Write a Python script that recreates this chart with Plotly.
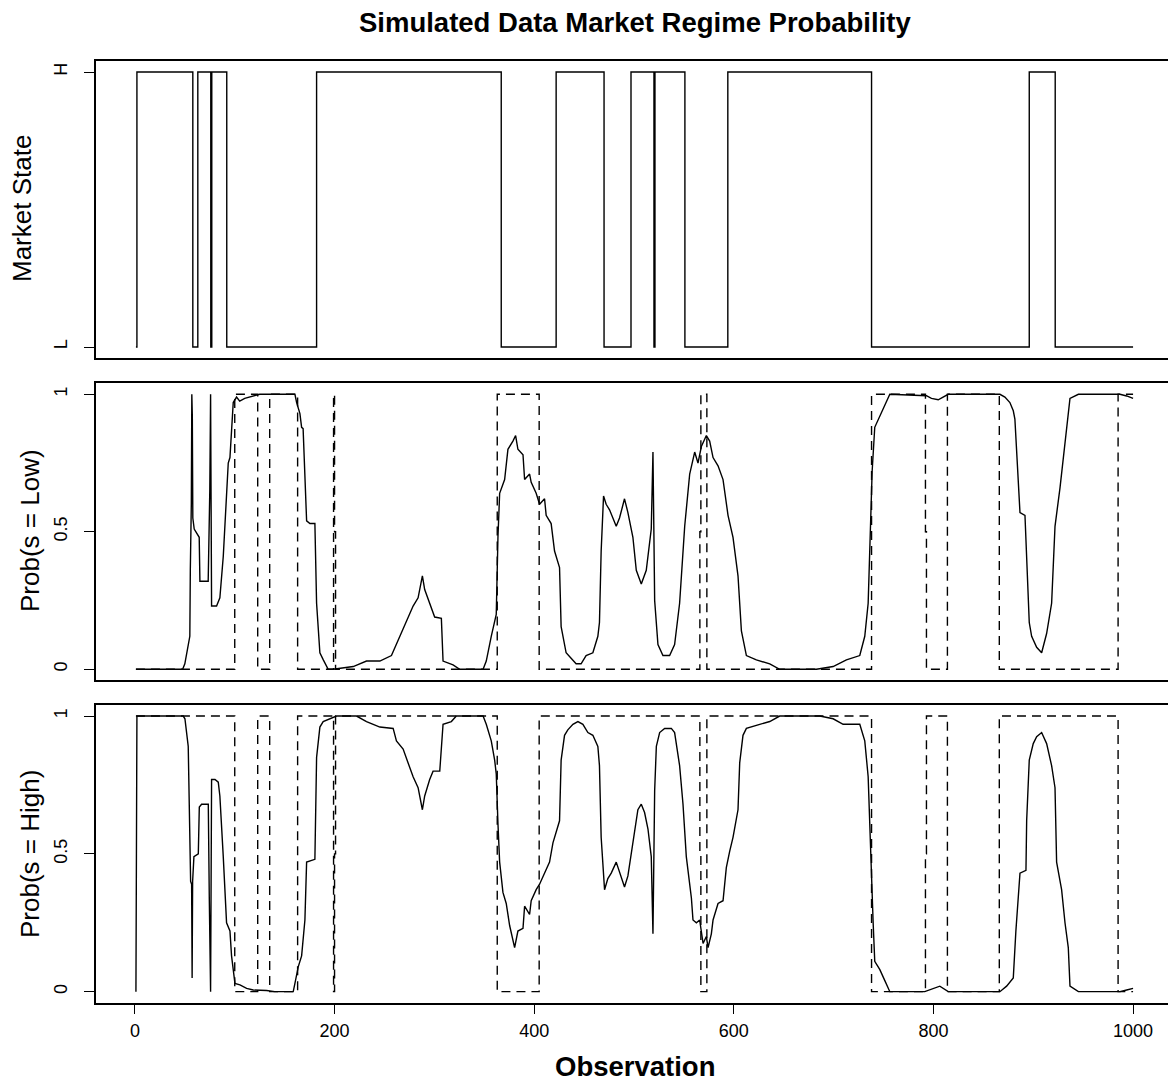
import plotly.graph_objects as go

# ---------------- data ----------------
# Market state (0 = L, 1 = H), step series: value holds from each obs until the next
state_obs = [1, 2, 58, 63, 76, 77, 92, 182, 367, 422, 470, 497, 520, 521, 551, 594, 738, 896, 922, 1000]
state_val = [0, 1, 0, 1, 0, 1, 0, 1, 0, 1, 0, 1, 0, 1, 0, 1, 0, 1, 0, 0]
state_ticks = [0, 1]
state_ticktext = ["L", "H"]

# Prob(s = Low)
low_obs = [1, 47.8, 50, 55, 55.5, 56.5, 57, 57.5, 58, 59.4, 64.4, 65.1, 73.4, 75, 75.8, 76.5, 76.8, 81.8,
           85.1, 88.5, 91.8, 93.5, 95.2, 96.8, 98.5, 101.8, 105, 110, 115, 120, 125, 160.3, 162, 165.3, 167,
           168.5, 170.3, 172, 175.3, 180.3, 182, 183.7, 185.3, 188.6, 193.6, 198.6, 218.7, 232, 245.4, 257,
           262, 272, 278.7, 283.7, 288, 290.3, 295.3, 300.3, 307, 308.7, 318.7, 325.4, 348.8, 352, 357, 362,
           363.7, 365.4, 370.4, 373.7, 378.7, 381.4, 383.7, 388.8, 390.4, 395.4, 397, 402, 405.4, 410.4, 412,
           417, 420.4, 425.4, 427, 432, 437, 442, 447, 452, 458.8, 463.8, 465.4, 467.1, 469.5, 472.1, 475.5,
           482.2, 485.5, 490.5, 493.9, 498.9, 502.3, 507.3, 512.3, 517.3, 519, 520.7, 524, 529, 535.7, 540.7,
           545.7, 550.8, 555.8, 560.8, 564.1, 567.5, 572.5, 575.8, 579.2, 584.2, 589.2, 594.2, 599.2, 604.2,
           607.6, 612.6, 622.6, 636, 646, 682.8, 699.5, 712.8, 726.2, 731.2, 734.6, 736.9, 738.6, 741.2, 746.3,
           751.3, 756.3, 793, 798, 804.8, 810, 814.8, 866.6, 871.6, 876.6, 880, 881.6, 883.3, 886.7, 891.7,
           893.4, 896, 898.4, 903.4, 908.4, 913.4, 918.4, 921.8, 926.8, 930.1, 933.5, 936.8, 945.2, 986.9,
           993.6, 1000]
low_prob = [0, 0, 0.02, 0.12, 0.36, 0.6, 1.0, 0.92, 0.55, 0.51, 0.48, 0.32, 0.32, 0.65, 1.0, 0.3, 0.23, 0.23,
            0.26, 0.41, 0.66, 0.75, 0.77, 0.88, 0.97, 0.99, 0.975, 0.985, 0.99, 0.995, 1.0, 1.0, 0.97, 0.93, 0.88,
            0.875, 0.66, 0.54, 0.53, 0.53, 0.24, 0.12, 0.06, 0.035, 0.0, 0.0, 0.01, 0.03, 0.03, 0.05,
            0.09, 0.17, 0.23, 0.26, 0.34, 0.29, 0.24, 0.19, 0.185, 0.03, 0.016, 0.0, 0.0, 0.03, 0.12, 0.2,
            0.48, 0.64, 0.69, 0.8, 0.83, 0.85, 0.8, 0.78, 0.69, 0.71, 0.68, 0.64, 0.6, 0.62, 0.56,
            0.53, 0.43, 0.37, 0.155, 0.06, 0.04, 0.02, 0.02, 0.05, 0.06, 0.12, 0.17, 0.43, 0.63, 0.6, 0.58,
            0.52, 0.55, 0.62, 0.57, 0.48, 0.36, 0.31, 0.36, 0.51, 0.79, 0.25, 0.09, 0.05, 0.05, 0.09,
            0.24, 0.52, 0.71, 0.79, 0.75, 0.81, 0.85, 0.83, 0.77, 0.74, 0.69, 0.56, 0.48, 0.34,
            0.14, 0.05, 0.034, 0.02, 0.0, 0.0, 0.01, 0.034, 0.05, 0.12, 0.24, 0.48, 0.72, 0.88, 0.92,
            0.955, 1.0, 0.995, 0.985, 0.98, 0.99, 1.0, 1.0, 0.99, 0.97, 0.94, 0.91, 0.79, 0.57, 0.56,
            0.38, 0.17, 0.12, 0.08, 0.06, 0.13, 0.24, 0.52, 0.66, 0.76, 0.87, 0.985, 1.0, 1.0,
            0.994, 0.985]

# Prob(s = High)
high_obs = [1, 2, 48.4, 50.1, 53.4, 55.8, 56.8, 57.3, 57.8, 59.1, 63.5, 64.5, 66.8, 73.5, 74.5, 75.8, 76.8,
            80.2, 83.5, 85.1, 88.5, 91.8, 95.2, 96.8, 98.5, 100.2, 105.2, 111.9, 118.5, 131.9, 140, 158.6,
            160.3, 163.6, 167, 170.3, 172, 180.3, 182, 185.3, 188.6, 195.3, 202, 222, 232, 245.4, 258.7, 262,
            268.7, 273.7, 278.7, 283.7, 288, 290.3, 295.3, 298.7, 305.4, 308.7, 317, 322, 348.8, 352, 357,
            360.4, 362, 363.7, 365.4, 368.7, 372, 375.4, 380.4, 383.7, 388.8, 390.4, 395.4, 397, 402, 405.4,
            410.4, 415.4, 418.8, 425.4, 427, 430.4, 433.7, 438.8, 443.8, 448.8, 453.8, 458.8, 463.8, 465.4,
            467.1, 470.5, 473.8, 477.2, 482.2, 487.2, 490.5, 493.9, 497.2, 500.6, 503.9, 507.3, 510.6, 514,
            517.3, 519, 520.7, 522.4, 525.7, 530.7, 537.4, 540.7, 545.7, 549.1, 552.4, 557.5, 559.1, 562.5,
            565.8, 569.2, 572.5, 574.2, 577.5, 579.2, 584.2, 589.2, 592.5, 595.9, 599.2, 604.2, 605.9, 609.2,
            612.6, 626, 636, 646, 686.2, 699.5, 709.5, 726.2, 731.2, 734.6, 736.2, 737.9, 739.6, 741.2, 746.3,
            751.3, 756.3, 791.3, 799.7, 806.4, 814.8, 866.6, 873.3, 880, 882.6, 886.7, 892.7, 893.4, 896, 900,
            903.4, 908.4, 913.4, 918.4, 921.8, 923.4, 928.4, 931.8, 935.1, 936.8, 945.2, 986.9, 993.6, 1000]
high_prob = [0, 1, 1, 0.99, 0.89, 0.4, 0.39, 0.05, 0.4, 0.49, 0.5, 0.67, 0.68, 0.68, 0.34, 0.0, 0.77,
             0.77, 0.76, 0.71, 0.49, 0.25, 0.22, 0.13, 0.08, 0.03, 0.025, 0.012, 0.006, 0.004, 0, 0,
             0.03, 0.09, 0.13, 0.26, 0.47, 0.48, 0.85, 0.96, 0.98, 0.99, 1.0, 1.0, 0.98, 0.96, 0.955, 0.91,
             0.88, 0.83, 0.78, 0.74, 0.66, 0.71, 0.77, 0.8, 0.8, 0.97, 0.98, 1.0, 1.0, 0.97, 0.91,
             0.84, 0.79, 0.61, 0.47, 0.36, 0.32, 0.24, 0.16, 0.22, 0.23, 0.31, 0.28, 0.33, 0.37, 0.39,
             0.43, 0.47, 0.54, 0.62, 0.84, 0.93, 0.95, 0.97, 0.98, 0.97, 0.94, 0.93, 0.89, 0.82,
             0.56, 0.37, 0.41, 0.43, 0.47, 0.42, 0.38, 0.42, 0.5, 0.59, 0.66, 0.68, 0.65, 0.59,
             0.49, 0.21, 0.73, 0.89, 0.94, 0.955, 0.955, 0.94, 0.82, 0.68, 0.49, 0.34, 0.26, 0.25,
             0.26, 0.175, 0.2, 0.16, 0.21, 0.26, 0.32, 0.33, 0.45, 0.51, 0.56, 0.66, 0.83, 0.93,
             0.955, 0.97, 0.98, 1.0, 1.0, 0.99, 0.97, 0.97, 0.91, 0.78, 0.61, 0.37, 0.25, 0.11, 0.08,
             0.04, 0, 0, 0.01, 0.02, 0, 0, 0.02, 0.05, 0.22, 0.43, 0.44, 0.62, 0.84, 0.9,
             0.925, 0.94, 0.9, 0.82, 0.74, 0.47, 0.37, 0.25, 0.16, 0.02, 0, 0, 0.006, 0.012]

# Estimated regime indicators (dashed), step series
est_obs = [1, 100, 123, 135, 163, 199, 200, 201, 363, 405, 566, 567, 573, 738, 792, 793, 814, 866, 985, 1000]
est_low = [0, 1, 0, 1, 0, 1, 0.5, 0, 1, 0, 0.5, 1, 0, 1, 0.5, 0, 1, 0, 1, 1]
est_high = [1, 0, 1, 0, 1, 0, 0.5, 1, 0, 1, 0.5, 0, 1, 0, 0.5, 1, 0, 1, 0, 0]

prob_ticks = [0, 0.5, 1]
prob_ticktext = ["0", "0.5", "1"]
x_ticks = [0, 200, 400, 600, 800, 1000]

# ---------------- figure ----------------
W, H = 1168, 1081
L_PX = 96
FONT = "Liberation Sans, Arial, sans-serif"

def ydom(top_px, bot_px):
    return [1 - bot_px / H, 1 - top_px / H]

line = dict(color="black", width=1.4)
dash = dict(color="black", width=1.4, dash="9px,6px")

fig = go.Figure()
fig.add_trace(go.Scatter(x=state_obs, y=state_val, mode="lines", line=dict(line, shape="hv"),
                         xaxis="x", yaxis="y", showlegend=False))
fig.add_trace(go.Scatter(x=est_obs, y=est_low, mode="lines", line=dict(dash, shape="hv"),
                         xaxis="x2", yaxis="y2", showlegend=False))
fig.add_trace(go.Scatter(x=low_obs, y=low_prob, mode="lines", line=line,
                         xaxis="x2", yaxis="y2", showlegend=False))
fig.add_trace(go.Scatter(x=est_obs, y=est_high, mode="lines", line=dict(dash, shape="hv"),
                         xaxis="x3", yaxis="y3", showlegend=False))
fig.add_trace(go.Scatter(x=high_obs, y=high_prob, mode="lines", line=line,
                         xaxis="x3", yaxis="y3", showlegend=False))

xr = [-39, 1035]
common_x = dict(range=xr, showgrid=False, zeroline=False, showline=True, mirror=True,
                linecolor="black", linewidth=1.5, domain=[0, 1])
common_y = dict(range=[-0.04, 1.04], showgrid=False, zeroline=False, showline=True, mirror=False,
                linecolor="black", linewidth=1.5, ticks="outside", ticklen=10, tickwidth=1.2,
                tickcolor="black", tickangle=-90, ticklabelstandoff=10,
                tickfont=dict(family=FONT, size=18, color="black"))

fig.update_layout(
    width=W, height=H,
    margin=dict(l=L_PX, r=0, t=0, b=0, autoexpand=False),
    paper_bgcolor="white", plot_bgcolor="white",
    xaxis=dict(common_x, anchor="y", showticklabels=False, ticks=""),
    xaxis2=dict(common_x, anchor="y2", showticklabels=False, ticks=""),
    xaxis3=dict(common_x, anchor="y3", tickvals=x_ticks, ticks="outside", ticklen=10, tickwidth=1.2,
                tickcolor="black", ticklabelstandoff=1,
                tickfont=dict(family=FONT, size=18, color="black")),
    yaxis=dict(common_y, anchor="x", domain=ydom(61, 358), tickvals=state_ticks, ticktext=state_ticktext),
    yaxis2=dict(common_y, anchor="x2", domain=ydom(383.3, 680.3), tickvals=prob_ticks, ticktext=prob_ticktext),
    yaxis3=dict(common_y, anchor="x3", domain=ydom(705, 1002.7), tickvals=prob_ticks, ticktext=prob_ticktext),
)

def px_x(px):
    return (px - L_PX) / (W - L_PX)

annos = [
    dict(text="<b>Simulated Data Market Regime Probability</b>", x=px_x(634.5), y=1 - 22 / H,
         font=dict(family=FONT, size=27.5, color="black")),
    dict(text="<b>Observation</b>", x=px_x(634.5), y=1 - 1066 / H,
         font=dict(family=FONT, size=27.5, color="black")),
    dict(text="Market State", x=px_x(22), y=1 - 209 / H, textangle=-90,
         font=dict(family=FONT, size=26, color="black")),
    dict(text="Prob(s = Low)", x=px_x(30), y=1 - 531 / H, textangle=-90,
         font=dict(family=FONT, size=26, color="black")),
    dict(text="Prob(s = High)", x=px_x(30), y=1 - 854 / H, textangle=-90,
         font=dict(family=FONT, size=26, color="black")),
]
for a in annos:
    fig.add_annotation(xref="paper", yref="paper", showarrow=False, xanchor="center", yanchor="middle", **a)

fig.write_html("out.html",
               config={"displayModeBar": False},
               post_script="document.body.style.margin='0';document.body.style.overflow='hidden';")
